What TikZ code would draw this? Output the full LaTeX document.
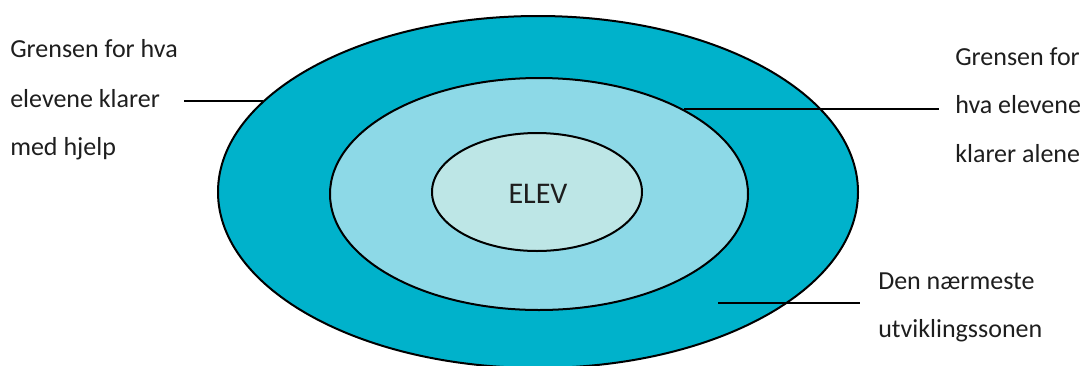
\documentclass[tikz,border=0pt]{standalone}
\usepackage{fontspec}
\setmainfont{Carlito}
\definecolor{outerc}{HTML}{00B2CB}
\definecolor{midc}{HTML}{8DD9E7}
\definecolor{innerc}{HTML}{BDE6E6}
\definecolor{txt}{HTML}{1E1E1E}
\begin{document}
\begin{tikzpicture}[x=0.75pt,y=-0.75pt,
  ring/.style={draw=black,line width=1.5pt},
  lbl/.style={anchor=base west,inner sep=0pt,text=txt,font=\fontsize{19.5}{23}\selectfont},
  leader/.style={draw=black,line width=1.1pt}]
\useasboundingbox (0,0) rectangle (1090,365);
\begin{scope}
\clip (0,0) rectangle (1090,365);
\path[ring,fill=outerc] (538,192) ellipse [x radius=320, y radius=176];
\path[ring,fill=midc] (539,194) ellipse [x radius=209, y radius=116];
\path[ring,fill=innerc] (537,192) ellipse [x radius=105, y radius=59];
\end{scope}
\node[inner sep=0pt,text=txt,font=\fontsize{22.5}{27}\selectfont] (elev) at (538,194) {ELEV};
% left labels
\node[lbl] (l1) at (10,57) {Grensen for hva};
\node[lbl] (l2) at (10,107) {elevene klarer};
\node[lbl] (l3) at (10,155) {med hjelp};
% right labels
\node[lbl] (r1) at (955,65) {Grensen for};
\node[lbl] (r2) at (955,113) {hva elevene};
\node[lbl] (r3) at (955,162) {klarer alene};
% bottom right labels
\node[lbl] (b1) at (878,289) {Den nærmeste};
\node[lbl] (b2) at (878,337) {utviklingssonen};
% leader lines
\coordinate (la) at (184,101);
\coordinate (lb) at (263,101);
\coordinate (ra) at (684,109);
\coordinate (rb) at (939,109);
\coordinate (ba) at (718,303);
\coordinate (bb) at (860,303);
\draw[leader] (la) -- (lb);
\draw[leader] (ra) -- (rb);
\draw[leader] (ba) -- (bb);
\end{tikzpicture}
\end{document}
